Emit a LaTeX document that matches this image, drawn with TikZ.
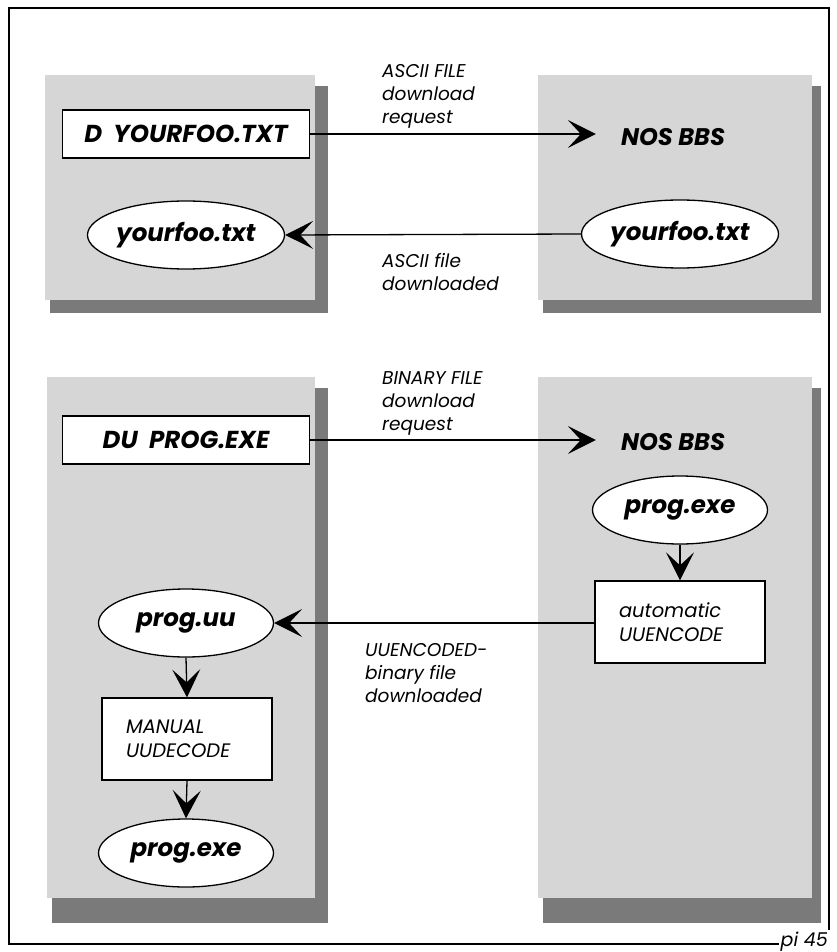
\documentclass[tikz,border=0pt]{standalone}
\usepackage{fontspec}
\setmainfont{Poppins}
\usetikzlibrary{shapes.geometric,arrows.meta}
\begin{document}
\begin{tikzpicture}[x=1pt,y=-1pt,
  panel/.style={fill=black!16, draw=none},
  shadowstrip/.style={fill=black!52, draw=none},
  cmd/.style={draw, line width=1.3pt, fill=white, minimum width=247pt, minimum height=48pt, inner sep=0pt,
    font=\fontsize{24.5}{28}\selectfont\bfseries\itshape},
  bbs/.style={inner sep=0pt, font=\fontsize{24}{28}\selectfont\bfseries\itshape},
  file/.style={ellipse, draw, line width=1.3pt, fill=white, minimum width=175pt, minimum height=68pt, inner sep=0pt,
    font=\fontsize{24.5}{28}\selectfont\bfseries\itshape},
  proc/.style={draw, line width=1.3pt, fill=white, text width=122pt, inner xsep=24pt, inner ysep=0pt,
    minimum height=82pt, align=left, font=\fontsize{19.5}{23.5}\selectfont\itshape},
  lbl/.style={align=left, anchor=north west, inner sep=0pt, font=\fontsize{18.5}{23}\selectfont\itshape},
  flow/.style={line width=1.3pt, -{Stealth[length=28pt,width=28pt,inset=13pt]}},
  ]
\useasboundingbox (0,0) rectangle (836,952);
\fill[white] (0,0) rectangle (836,952);
\draw[line width=1.5pt] (9,8) rectangle (829,944);

% panels with drop shadows
\fill[shadowstrip] (50,86) rectangle (328,313);
\fill[panel] (45,75) rectangle (315,300);
\fill[shadowstrip] (543,86) rectangle (821,313);
\fill[panel] (538,75) rectangle (812,300);
\fill[shadowstrip] (52,388) rectangle (328,923);
\fill[panel] (47,377) rectangle (315,898);
\fill[shadowstrip] (543,388) rectangle (821,923);
\fill[panel] (538,377) rectangle (812,898);

% upper exchange
\node[cmd] (d) at (186,134) {D\ \ YOURFOO.TXT};
\node[bbs] (nos1) at (673,137) {NOS BBS};
\node[file] (yl) at (186,235) {yourfoo.txt};
\node[file] (yr) at (680,234) {yourfoo.txt};
\draw[flow, shorten >=25pt] (d.east) -- (d.east -| nos1.west);
\draw[flow] (yr.west) -- (yl.east);
\node[lbl] (l1) at (382,64) {ASCII FILE\\download\\request};
\node[lbl] (l2) at (382,253) {ASCII file\\downloaded};

% lower exchange
\node[cmd] (du) at (186,440) {DU\ \ PROG.EXE};
\node[bbs] (nos2) at (673,442) {NOS BBS};
\node[file] (pe) at (680,510) {prog.exe};
\node[proc] (auto) at (680,622) {automatic\\UUENCODE};
\node[file] (pu) at (186,623) {prog.uu};
\node[proc] (man) at (187,739) {MANUAL\\UUDECODE};
\node[file] (px) at (186,853) {prog.exe};
\draw[flow, shorten >=25pt] (du.east) -- (du.east -| nos2.west);
\draw[flow] (pe.south) -- (auto.north);
\draw[flow] (auto.west |- pu.east) -- (pu.east);
\draw[flow] (pu.south) -- (man.north);
\draw[flow] (man.south) -- (px.north);
\node[lbl] (l3) at (382,371) {BINARY FILE\\download\\request};
\node[lbl] (l4) at (365,643) {UUENCODED-\\binary file\\downloaded};

\node[font=\fontsize{19}{23}\selectfont\itshape, fill=white, inner sep=2pt, anchor=base east] (pg) at (830,946) {pi 45};
\end{tikzpicture}
\end{document}
